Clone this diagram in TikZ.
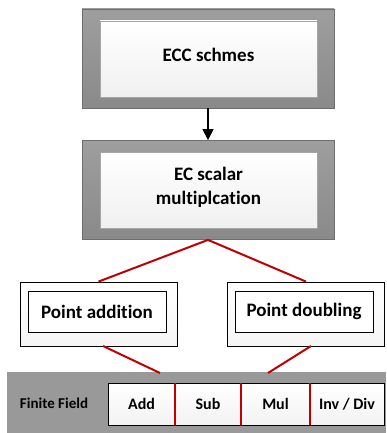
\documentclass[tikz,border=0pt]{standalone}
\usepackage{fontspec}
\setmainfont{Carlito}[Ligatures=NoCommon]
\usetikzlibrary{arrows.meta,calc}
\definecolor{redline}{HTML}{C00000}
\definecolor{grayfill}{HTML}{999999}
\definecolor{grayedge}{HTML}{6E6E6E}
\tikzset{
  outerbox/.style={draw=grayedge, line width=0.8pt, top color=grayfill!95!white, bottom color=grayfill!90!black, minimum width=252pt, minimum height=99pt, inner sep=0pt},
  innerbox/.style={draw=gray!70, line width=0.6pt, top color=white, bottom color=black!6, minimum width=217pt, minimum height=76pt, inner sep=0pt},
  boxtext/.style={font=\bfseries\fontsize{19}{24}\selectfont, align=center, inner sep=0pt},
  ptouter/.style={draw=black, line width=0.8pt, top color=white, bottom color=black!4, minimum width=157pt, minimum height=64pt, inner sep=0pt},
  ptinner/.style={draw=black, line width=1pt, fill=white, minimum width=138pt, minimum height=41pt, font=\bfseries\fontsize{19}{23}\selectfont, inner sep=0pt},
  cell/.style={draw=black, line width=0.8pt, top color=white, bottom color=black!5, minimum height=42pt, font=\bfseries\fontsize{16}{19}\selectfont, inner sep=0pt},
  redconn/.style={draw=redline, line width=2pt},
  reddiv/.style={draw=redline, line width=2pt}
}
\begin{document}
\begin{tikzpicture}[x=1pt,y=-1pt]
\useasboundingbox (0,0) rectangle (386,433);
% top box
\node[outerbox] (eccout) at (208,58.5) {};
\node[innerbox] (eccin) at (208.5,59) {};
\node[boxtext] (ecc) at (208.5,54.5) {ECC schmes};
% second box
\node[outerbox] (smout) at (208,190) {};
\node[innerbox] (smin) at (208.5,190.5) {};
\node[boxtext] (sm) at (208.5,187) {EC scalar\\multiplcation};
\draw[line width=1.5pt, -{Triangle[length=11pt,width=11pt]}] (eccout.south) -- (smout.north);
% point boxes
\node[ptouter] (paout) at (98.5,314) {};
\node[ptinner] (pa) at (97,311.5) {Point addition};
\node[ptouter] (pdout) at (306,314) {};
\node[ptinner] (pd) at (304,311.5) {Point doubling};
% finite field bar
\node[fill=grayfill, minimum width=379pt, minimum height=61pt, inner sep=0pt, anchor=north west] (ff) at (7,372) {};
\node[font=\bfseries\fontsize{15}{18}\selectfont] (fflabel) at (54,403) {Finite Field};
\node[cell, minimum width=67pt] (add) at (141.5,404) {Add};
\node[cell, minimum width=66pt] (sub) at (208,404) {Sub};
\node[cell, minimum width=69pt] (mul) at (275.5,404) {Mul};
\node[cell, minimum width=74pt] (inv) at (347,404) {Inv / Div};
\draw[reddiv] (add.north east) -- (add.south east);
\draw[reddiv] (sub.north east) -- (sub.south east);
\draw[reddiv] (mul.north east) -- (mul.south east);
% red connectors
\draw[redconn] (smout.south) -- (paout.north);
\draw[redconn] (smout.south) -- (pdout.north);
\coordinate (pab) at (103,346);
\coordinate (pdb) at (311,346);
\coordinate (ffa) at (160,373);
\coordinate (ffb) at (268,373);
\draw[redconn] (pab) -- (ffa);
\draw[redconn] (pdb) -- (ffb);
\end{tikzpicture}
\end{document}
